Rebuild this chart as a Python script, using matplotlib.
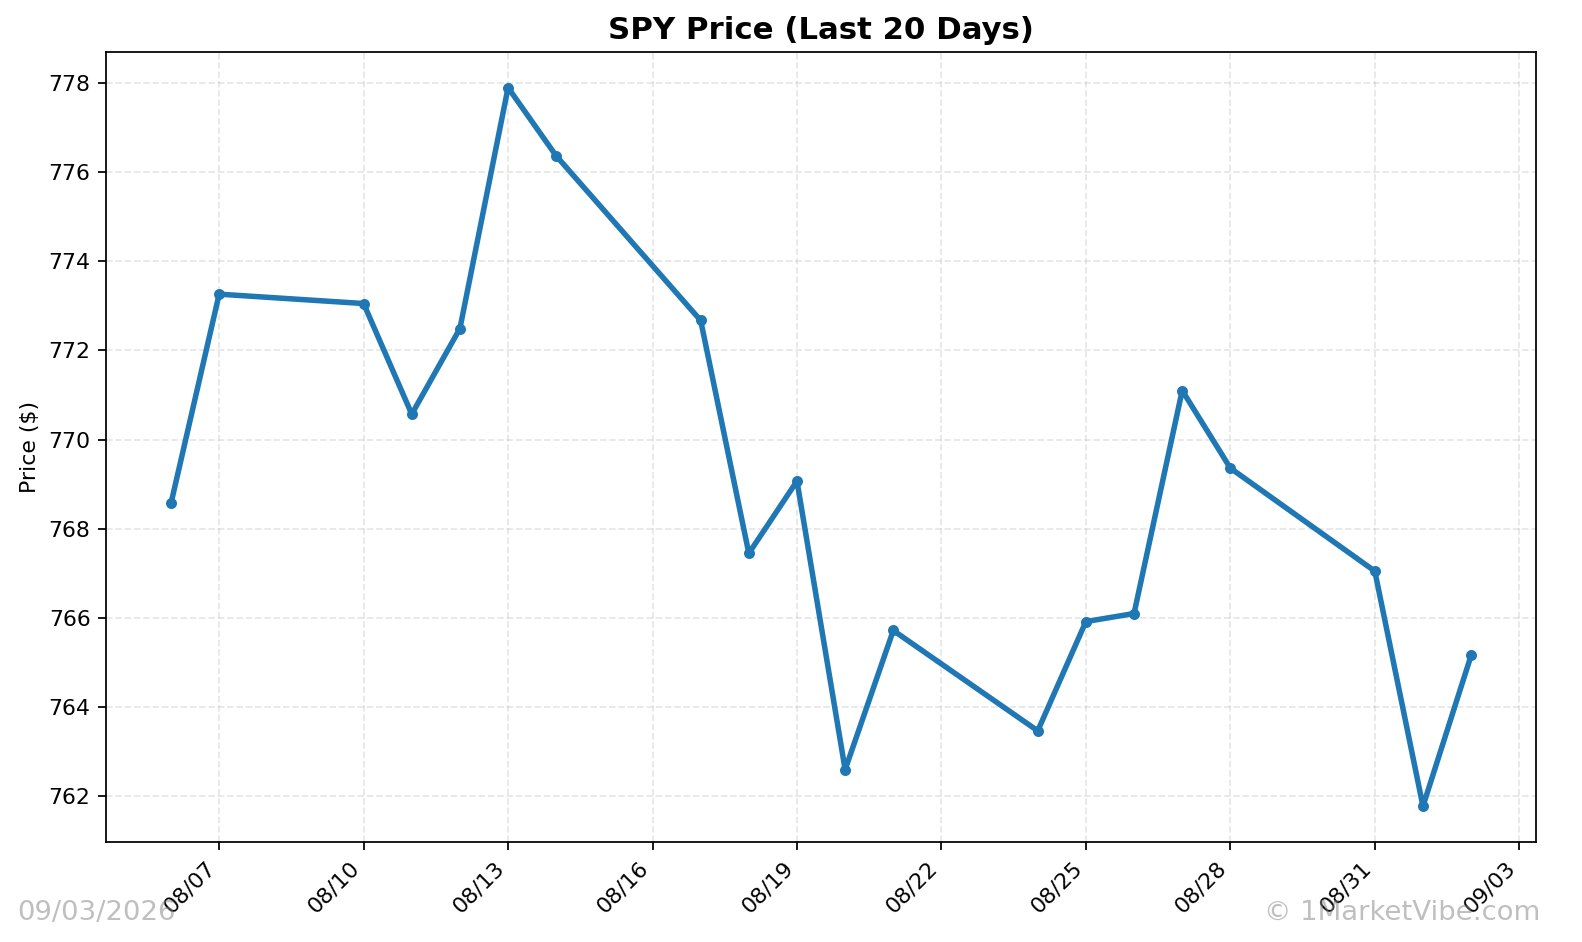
import pandas as pd
import matplotlib
matplotlib.use('Agg')
import matplotlib.pyplot as plt
import matplotlib.dates as mdates

# SPY closes, last 20 trading days
dates = ['2026-08-06', '2026-08-07', '2026-08-10', '2026-08-11', '2026-08-12',
         '2026-08-13', '2026-08-14', '2026-08-17', '2026-08-18', '2026-08-19',
         '2026-08-20', '2026-08-21', '2026-08-24', '2026-08-25', '2026-08-26',
         '2026-08-27', '2026-08-28', '2026-08-31', '2026-09-01', '2026-09-02']
closes = [768.57, 773.26, 773.05, 770.57, 772.49,
          777.89, 776.36, 772.67, 767.45, 769.07,
          762.60, 765.72, 763.47, 765.92, 766.10,
          771.10, 769.36, 767.05, 761.78, 765.16]
title = 'SPY Price (Last 20 Days)'
stamp = '09/03/2026'
credit = '\u00a9 1MarketVibe.com'

spy = pd.Series(closes, index=pd.to_datetime(dates))

fig, ax = plt.subplots(figsize=(10, 5.955), dpi=158.2)
fig.subplots_adjust(left=0.067, right=0.971, top=0.945, bottom=0.106)

ax.plot(spy.index, spy.values, color='#1f77b4', linewidth=2.5, marker='o', markersize=4)
ax.set_title(title, fontsize=14, fontweight='bold')
ax.set_ylabel('Price ($)', fontsize=10)
ax.grid(True, linestyle='--', alpha=0.3)

ax.xaxis.set_major_locator(mdates.DayLocator(interval=3))
ax.xaxis.set_major_formatter(mdates.DateFormatter('%m/%d'))
plt.setp(ax.get_xticklabels(), rotation=45, ha='right')

fig.text(0.011, 0.017, stamp, fontsize=12.5, color='gray', alpha=0.5, ha='left', va='bottom')
fig.text(0.974, 0.017, credit, fontsize=12.5, color='gray', alpha=0.5, ha='right', va='bottom')

fig.savefig('out.png')
